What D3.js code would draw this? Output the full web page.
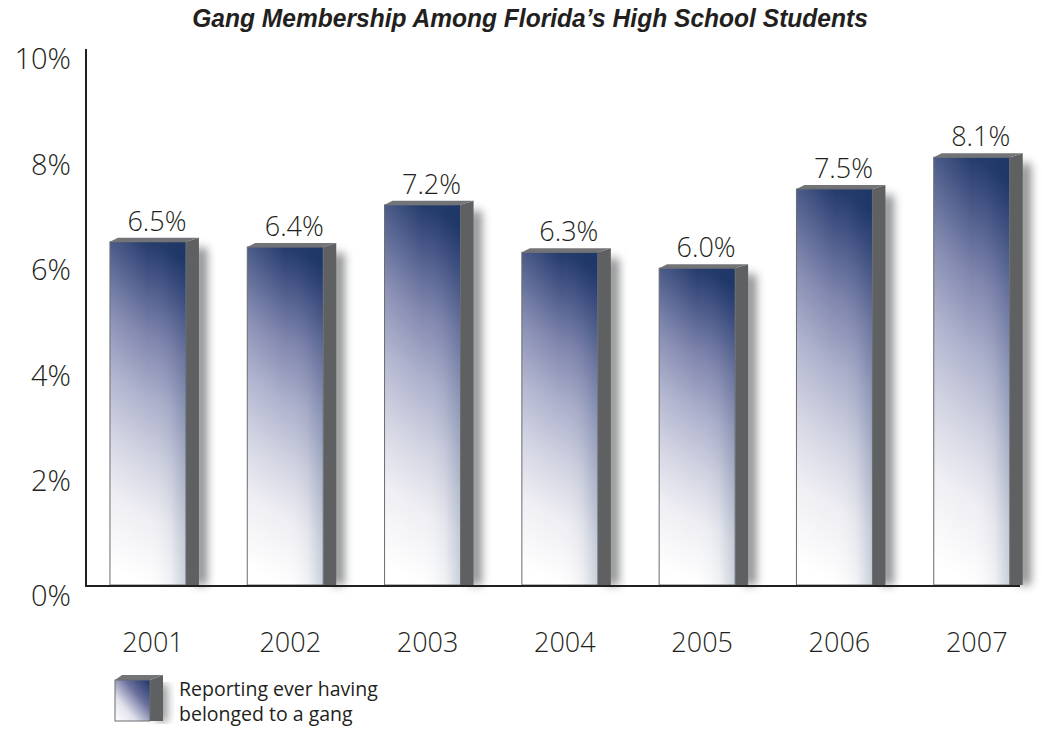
<!DOCTYPE html>
<html>
<head>
<meta charset="utf-8">
<script src="https://cdn.jsdelivr.net/npm/d3@7"></script>
<style>
  body { margin: 0; background: #fff; }
  svg { display: block; }
</style>
</head>
<body>
<div id="chart"></div>
<script>
// data
var years = ['2001', '2002', '2003', '2004', '2005', '2006', '2007'];
var values = [6.5, 6.4, 7.2, 6.3, 6.0, 7.5, 8.1];
var yTicks = [0, 2, 4, 6, 8, 10];
var title = 'Gang Membership Among Florida\u2019s High School Students';
var legendLines = ['Reporting ever having', 'belonged to a gang'];

var width = 1042, height = 736;
var textFont = '"Open Sans", "Noto Sans", sans-serif';
var textColor = '#231f20';

var svg = d3.select('#chart').append('svg')
	.attr('width', width)
	.attr('height', height);

var defs = svg.append('defs');

// front face gradient (mostly vertical, dark top -> white bottom)
var grad = defs.append('linearGradient')
	.attr('id', 'barGrad')
	.attr('x1', 0.56).attr('y1', 0)
	.attr('x2', 0.44).attr('y2', 1);
grad.append('stop').attr('offset', 0).attr('stop-color', '#223a69');
grad.append('stop').attr('offset', 0.08).attr('stop-color', '#3c4d7f');
grad.append('stop').attr('offset', 0.28).attr('stop-color', '#8086ae');
grad.append('stop').attr('offset', 0.45).attr('stop-color', '#abafcb');
grad.append('stop').attr('offset', 0.62).attr('stop-color', '#cfd1e0');
grad.append('stop').attr('offset', 0.8).attr('stop-color', '#eeeef3');
grad.append('stop').attr('offset', 1).attr('stop-color', '#ffffff');

// darker right edge overlay
var edgeGrad = defs.append('linearGradient')
	.attr('id', 'edgeGrad')
	.attr('x1', 0).attr('y1', 0)
	.attr('x2', 1).attr('y2', 0);
edgeGrad.append('stop').attr('offset', 0).attr('stop-color', '#ffffff').attr('stop-opacity', 0.1);
edgeGrad.append('stop').attr('offset', 0.5).attr('stop-color', '#ffffff').attr('stop-opacity', 0);
edgeGrad.append('stop').attr('offset', 0.8).attr('stop-color', '#0b2c5c').attr('stop-opacity', 0.05);
edgeGrad.append('stop').attr('offset', 1).attr('stop-color', '#0b2c5c').attr('stop-opacity', 0.2);

// legend swatch gradient (diagonal)
var lgGrad = defs.append('linearGradient')
	.attr('id', 'legGrad')
	.attr('x1', 1).attr('y1', 0)
	.attr('x2', 0).attr('y2', 1);
lgGrad.append('stop').attr('offset', 0).attr('stop-color', '#1b3466');
lgGrad.append('stop').attr('offset', 0.35).attr('stop-color', '#6a6f9c');
lgGrad.append('stop').attr('offset', 0.7).attr('stop-color', '#e2e2ec');
lgGrad.append('stop').attr('offset', 1).attr('stop-color', '#ffffff');

var blur = defs.append('filter')
	.attr('id', 'shadow')
	.attr('x', '-80%').attr('y', '-5%')
	.attr('width', '260%').attr('height', '110%');
blur.append('feGaussianBlur').attr('stdDeviation', 5);

// scales
var x = d3.scaleBand()
	.domain(years)
	.range([79.3, 1040.4])
	.paddingInner(0.4465)
	.paddingOuter(0.2233);

var y = d3.scaleLinear()
	.domain([0, 10])
	.range([585, 57]);

var sideW = 13, topH = 4;

// bars
var bars = svg.append('g').selectAll('g.bar')
	.data(values)
	.enter().append('g')
	.attr('class', 'bar');

// drop shadow right of the side face
bars.append('rect')
	.attr('x', function (d, i) { return x(years[i]) + x.bandwidth() + sideW - 4; })
	.attr('y', function (d) { return y(d) + 6; })
	.attr('width', 12)
	.attr('height', function (d) { return y(0) - y(d) - 6; })
	.attr('fill', '#6b6d70')
	.attr('opacity', 0.8)
	.attr('filter', 'url(#shadow)');

// side face
bars.append('path')
	.attr('d', function (d, i) {
		var x0 = x(years[i]) + x.bandwidth(), yt = y(d);
		return 'M' + x0 + ',' + yt + 'L' + (x0 + sideW) + ',' + (yt - topH) +
			'L' + (x0 + sideW) + ',' + y(0) + 'L' + x0 + ',' + y(0) + 'Z';
	})
	.attr('fill', '#5e6062');

// top face
bars.append('path')
	.attr('d', function (d, i) {
		var x0 = x(years[i]), x1 = x0 + x.bandwidth(), yt = y(d);
		return 'M' + x0 + ',' + yt + 'L' + (x0 + 8) + ',' + (yt - topH) +
			'L' + (x1 + sideW) + ',' + (yt - topH) + 'L' + x1 + ',' + yt + 'Z';
	})
	.attr('fill', '#727477');

// front face
bars.append('rect')
	.attr('x', function (d, i) { return x(years[i]); })
	.attr('y', function (d) { return y(d); })
	.attr('width', x.bandwidth())
	.attr('height', function (d) { return y(0) - y(d); })
	.attr('fill', 'url(#barGrad)');
bars.append('rect')
	.attr('x', function (d, i) { return x(years[i]); })
	.attr('y', function (d) { return y(d); })
	.attr('width', x.bandwidth())
	.attr('height', function (d) { return y(0) - y(d); })
	.attr('fill', 'url(#edgeGrad)')
	.attr('stroke', '#6a6c6f')
	.attr('stroke-width', 1);

// value labels
bars.append('text')
	.attr('x', function (d, i) { return x(years[i]) + x.bandwidth() / 2 + 9; })
	.attr('y', function (d) { return y(d) - 11; })
	.attr('text-anchor', 'middle')
	.attr('font-family', textFont)
	.attr('font-weight', 300)
	.attr('font-size', 27)
	.attr('fill', textColor)
	.text(function (d) { return d.toFixed(1) + '%'; });

// axes lines
svg.append('line')
	.attr('x1', 86).attr('x2', 86)
	.attr('y1', 49).attr('y2', y(0) + 1)
	.attr('stroke', '#231f20').attr('stroke-width', 2);
svg.append('line')
	.attr('x1', 85).attr('x2', 1020)
	.attr('y1', y(0) + 1).attr('y2', y(0) + 1)
	.attr('stroke', '#231f20').attr('stroke-width', 2);

// y tick labels
svg.append('g').selectAll('text')
	.data(yTicks)
	.enter().append('text')
	.attr('x', 71)
	.attr('y', function (d) { return d === 0 ? y(d) + 21 : y(d) + 12; })
	.attr('text-anchor', 'end')
	.attr('font-family', textFont)
	.attr('font-weight', 300)
	.attr('font-size', 29)
	.attr('fill', textColor)
	.text(function (d) { return d + '%'; });

// x labels
svg.append('g').selectAll('text')
	.data(years)
	.enter().append('text')
	.attr('x', function (d) { return x(d) + x.bandwidth() / 2 + 5; })
	.attr('y', 652)
	.attr('text-anchor', 'middle')
	.attr('font-family', textFont)
	.attr('font-weight', 300)
	.attr('font-size', 27)
	.attr('fill', textColor)
	.text(function (d) { return d; });

// title: condensed bold italic, squeezed to the reference width
var titleText = svg.append('text')
	.attr('text-anchor', 'middle')
	.attr('font-family', '"Liberation Sans", Arial, sans-serif')
	.attr('font-style', 'italic')
	.attr('font-weight', 'bold')
	.attr('font-size', 25)
	.attr('fill', textColor)
	.text(title);
var titleLen = titleText.node().getComputedTextLength();
titleText.attr('transform', 'translate(530,27) scale(' + (676 / titleLen) + ',1)');

// legend
var lg = svg.append('g').attr('transform', 'translate(115,680)');
lg.append('rect')
	.attr('x', 42).attr('y', 4).attr('width', 10).attr('height', 38)
	.attr('fill', '#6b6d70').attr('opacity', 0.8)
	.attr('filter', 'url(#shadow)');
lg.append('path')
	.attr('d', 'M35,0L48,-5L48,41L35,41Z')
	.attr('fill', '#5e6062');
lg.append('path')
	.attr('d', 'M0,0L7,-5L48,-5L35,0Z')
	.attr('fill', '#727477');
lg.append('rect')
	.attr('width', 35).attr('height', 41)
	.attr('fill', 'url(#legGrad)')
	.attr('stroke', '#6a6c6f');
lg.selectAll('text.leg')
	.data(legendLines)
	.enter().append('text')
	.attr('class', 'leg')
	.attr('x', 64)
	.attr('y', function (d, i) { return 16 + i * 25; })
	.attr('font-family', textFont)
	.attr('font-size', 19.5)
	.attr('fill', textColor)
	.text(function (d) { return d; });
</script>
</body>
</html>
